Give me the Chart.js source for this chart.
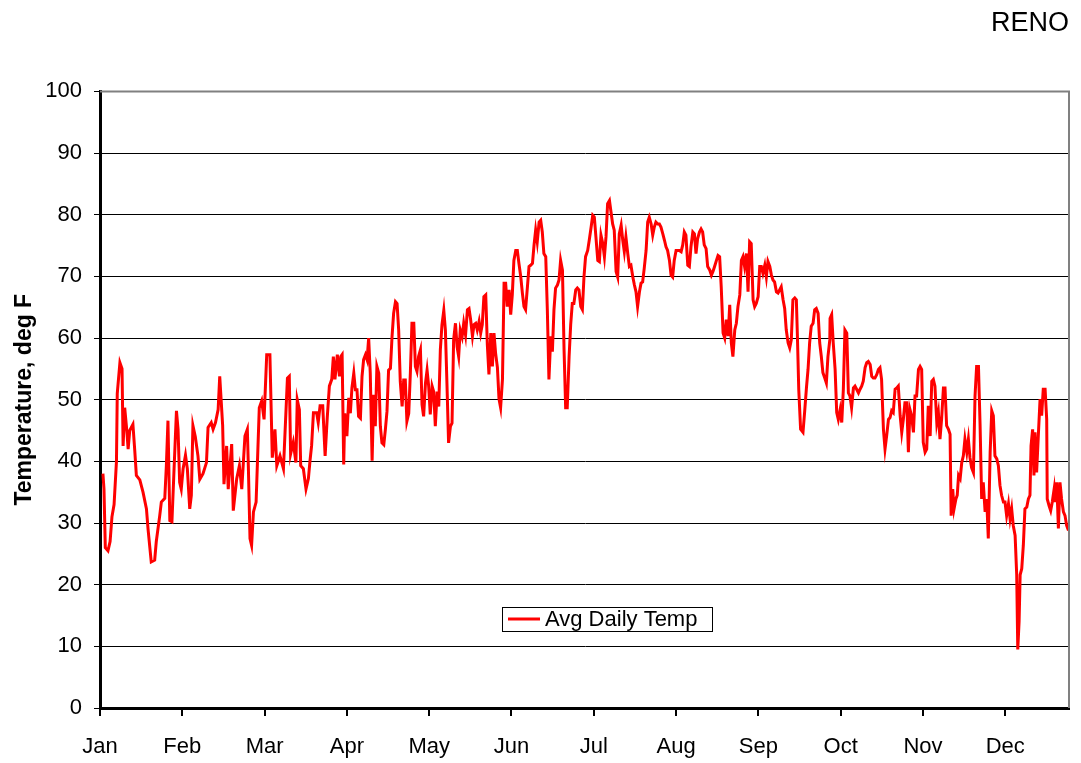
<!DOCTYPE html>
<html>
<head>
<meta charset="utf-8">
<title>RENO - Avg Daily Temp</title>
<script src="https://cdn.jsdelivr.net/npm/chart.js@4/dist/chart.umd.min.js"></script>
<style>
    html, body { margin: 0; padding: 0; background: #fff; }
    #wrap { width: 1081px; height: 763px; }
</style>
</head>
<body>
<div id="wrap"><canvas id="renoChart" width="1081" height="763"></canvas></div>
<script>
// --- data (day of year, deg F) ---
const days = [
    1.1, 1.5, 2.0, 3.0, 3.8, 4.5, 5.3, 6.2, 6.5, 7.5, 8.3, 8.7, 9.3, 10.1, 10.6, 11.2, 12.4, 13.1, 13.7, 15.0,
    16.2, 17.5, 18.1, 19.3, 20.6, 21.2, 22.5, 23.1, 24.4, 25.0, 25.6, 26.3, 27.1, 27.9, 28.8, 29.4, 30.0, 30.6, 31.3, 32.2,
    32.9, 33.8, 34.4, 35.0, 35.9, 36.9, 37.6, 38.8, 40.1, 40.7, 41.9, 42.6, 43.5, 44.5, 45.1,
    46.2, 46.7, 47.7, 48.3, 49.6, 50.2, 51.5, 52.5, 53.4, 54.6, 55.5, 55.9, 56.5, 57.1, 57.8, 58.8, 59.3, 60.0, 60.9, 61.8,
    62.8, 64.0, 64.9, 65.9, 66.6, 67.8, 69.1, 69.7, 70.6, 71.3, 71.8, 72.8, 73.8, 74.3, 75.1, 75.6, 76.6, 77.6, 78.5, 79.1,
    79.7, 80.4, 81.6, 82.2, 82.9, 83.9, 84.8, 85.6, 86.4, 87.3, 87.9, 88.5, 89.4, 90.2, 90.7,
    91.2, 91.8, 92.2, 93.0, 93.7, 94.3, 94.9, 95.6, 96.2, 96.8, 97.4, 98.1, 98.7, 99.3, 100.0, 100.6, 101.2, 101.8, 102.5, 103.1,
    103.7, 104.3, 105.0, 105.6, 106.2, 106.9, 107.5, 108.1, 108.7, 109.4, 110.0, 110.6, 111.3, 111.9, 112.5, 113.1, 113.8, 114.4, 115.0, 115.6,
    116.3, 116.9, 117.5, 118.2, 118.8, 119.4, 120.0, 120.7, 121.3, 121.9, 122.6, 123.2, 123.8, 124.4, 125.1, 125.7, 126.3, 127.0, 127.6, 128.2,
    128.8, 129.5, 130.1, 130.7, 131.3, 132.0, 132.6, 133.2, 133.9, 134.5, 135.1, 135.7, 136.4, 137.0,
    137.7, 138.4, 139.0, 139.6, 140.3, 140.9, 141.5, 142.1, 142.8, 143.4, 144.0, 144.6, 145.3, 145.9, 146.5, 147.2, 147.8, 148.4, 149.0, 149.7,
    150.3, 150.9, 151.6, 152.2, 152.8, 153.4, 154.1, 154.7, 155.3, 155.9, 156.6, 157.2, 157.8, 158.5, 159.1, 159.7, 160.3, 161.0, 161.6, 162.2,
    162.9, 163.5, 164.1, 164.7, 165.4, 166.0, 166.6, 167.2, 167.9, 168.5, 169.1, 169.8, 170.4, 171.0, 171.6, 172.3, 172.9, 173.5, 174.2, 174.8,
    175.4, 176.0, 176.7, 177.3, 177.9, 178.5, 179.2, 179.8, 180.4, 181.1, 181.7, 182.3, 182.9,
    183.7, 184.3, 185.0, 185.6, 186.2, 186.8, 187.5, 188.1, 188.7, 189.4, 190.0, 190.6, 191.2, 191.9, 192.5, 193.1, 193.7, 194.4, 195.0, 195.6,
    196.3, 196.9, 197.5, 198.1, 198.8, 199.4, 200.0, 200.7, 201.3, 201.9, 202.5, 203.2, 203.8, 204.4, 205.0, 205.7, 206.3, 206.9, 207.6, 208.2,
    208.8, 209.4, 210.1, 210.7, 211.3, 212.0, 212.6, 213.2, 213.8, 214.5, 215.1, 215.7, 216.3, 217.0, 217.6, 218.2, 218.9, 219.5, 220.1, 220.7,
    221.4, 222.0, 222.6, 223.3, 223.9, 224.5, 225.1, 225.8, 226.4, 227.0, 227.6, 228.3, 228.9,
    229.7, 230.3, 230.9, 231.5, 232.2, 232.8, 233.4, 234.0, 234.7, 235.3, 235.9, 236.6, 237.2, 237.8, 238.4, 239.1, 239.7, 240.3, 241.0, 241.6,
    242.2, 242.8, 243.5, 244.1, 244.7, 245.3, 246.0, 246.6, 247.2, 247.9, 248.5, 249.1, 249.7, 250.4, 251.0, 251.6, 252.3, 252.9, 253.5, 254.1,
    254.8, 255.4, 256.0, 256.6, 257.3, 257.9, 258.5, 259.2, 259.8, 260.4, 261.0, 261.7, 262.3, 262.7, 263.2, 263.9, 264.8, 265.4, 266.1, 266.7,
    267.3, 267.9, 268.6, 269.2, 269.8, 270.5, 271.1, 271.7, 272.3, 273.0, 273.6, 274.2, 274.9,
    275.0, 275.6, 276.2, 276.9, 277.5, 278.1, 278.8, 279.4, 280.0, 280.6, 281.3, 281.9, 282.5, 283.1, 283.8, 284.4, 285.0, 285.7, 286.3, 286.9,
    287.5, 288.2, 288.8, 289.4, 290.1, 290.7, 291.3, 291.9, 292.6, 293.2, 293.8, 294.4, 295.1, 295.7, 296.3, 297.0, 297.6, 298.2, 298.8, 299.5,
    300.1, 300.7, 301.4, 302.0, 302.6, 303.2, 303.9, 304.5, 305.1, 305.7, 306.4, 307.0, 307.6, 308.3, 308.9, 309.5, 310.1, 310.8, 311.4, 312.0,
    312.7, 313.3, 313.9, 314.5, 315.2, 315.8, 316.4, 317.0, 317.7, 318.3, 318.9, 319.6,
    320.2, 320.6, 321.2, 321.7, 322.4, 322.9, 323.4, 324.0, 324.6, 325.2, 325.8, 326.5, 327.1, 327.7, 328.3, 329.0, 329.6, 330.2, 330.9, 331.5,
    332.1, 332.7, 333.4, 334.0, 334.6, 335.3, 335.9, 336.5, 337.1, 337.8, 338.4, 339.0, 339.6, 340.3, 340.9, 341.5, 342.2, 342.8, 343.4, 344.0,
    344.7, 345.3, 345.7, 346.2, 346.6, 347.2, 347.8, 348.4, 349.1, 349.7, 350.3, 350.7, 351.3, 351.8, 352.2, 352.8, 353.5, 354.1, 354.7, 355.3,
    356.0, 356.6, 356.8, 357.5, 358.1, 358.7, 359.4, 359.7, 360.4, 361.0, 361.6, 362.2, 362.9, 363.5, 364.1, 364.8
];
const temps = [
    38, 35.5, 26, 25.5, 27, 31, 33, 40, 51, 56, 55, 42.5, 48.7, 45, 42, 45, 46, 41.7, 37.7, 37,
    35, 32.3, 29, 23.7, 24, 27, 31.2, 33.4, 34, 39.3, 46.6, 30.4, 30.2, 38.8, 48.2, 45.2, 36.6, 35.5, 38.8, 41,
    38.8, 32.3, 34.5, 45.8, 44, 40.9, 37.1, 38, 39.8, 45.5, 46.3, 45.2, 46.3, 48.4, 53.8,
    45.8, 36.3, 42.5, 35.5, 42.8, 32, 37.2, 39.3, 35.5, 44.1, 45.2, 38.8, 27.5, 26.4, 31.8, 33.4, 39.8, 48.7, 49.8, 46.8,
    57.3, 57.3, 40.6, 45.2, 39.3, 40.9, 38.8, 44.7, 53.5, 53.8, 41.2, 43.1, 39.8, 50, 48.4, 39.3, 38.8, 35.5, 37.2, 40.1,
    42.5, 47.9, 47.9, 46.3, 49, 49, 40.9, 47.1, 52.2, 53.3, 57, 53.3, 57.3, 53.8, 57,
    57.3, 39.5, 47.8, 44.1, 50.3, 47.8, 51.9, 54.3, 51.6, 51.6, 47.3, 47, 53.8, 56.5, 57.3, 56.5, 60, 54.3, 40.1, 50.8,
    45.7, 55.4, 54.3, 45.7, 43, 42.7, 45.2, 48.1, 54.8, 55.1, 60.2, 64, 65.9, 65.6, 61.3, 53, 48.9, 53.2, 53.2, 46.5,
    47.8, 54.3, 62.4, 62.4, 55.4, 54.6, 57, 58.1, 49.2, 47.3, 52.7, 54.8, 52.2, 47.6, 52.2, 51.3, 45.7, 51.3, 48.9, 58.1,
    62.1, 64.5, 61.3, 52.4, 43, 45.7, 46.2, 59.7, 62.4, 58.6, 57, 61.3, 60.2, 62.4,
    60.5, 64.6, 64.8, 63, 60.3, 62.2, 62.4, 61.3, 62.7, 60.8, 62.2, 66.7, 67, 58.9, 54.1, 60.8, 55.4, 60.8, 57.6, 55.2,
    50.1, 48.7, 53.3, 68.9, 68.9, 65.1, 67.8, 63.8, 67, 72.6, 74.2, 74.2, 72.1, 69.9, 67.3, 65.1, 64.6, 68.3, 71.6, 71.8,
    72.1, 75.1, 77.5, 75.6, 78.8, 79.1, 77.2, 73.7, 73.2, 64.6, 53.3, 60.3, 57.8, 64.6, 68.1, 68.6, 69.4, 72.6, 71, 58.1,
    48.7, 48.7, 57, 62.2, 65.6, 65.6, 67.8, 68.1, 67.8, 65.1, 64.6, 69.9, 73.2,
    74.2, 75.9, 78, 79.9, 79.6, 76.4, 72.6, 72.4, 76.7, 75.3, 73.2, 76.4, 81.8, 82.3, 80.4, 78.5, 77.5, 70.8, 69.9, 76.9,
    78.3, 75.9, 74, 76.4, 73.7, 71.6, 71.8, 69.9, 68.6, 67.5, 65.1, 67.5, 68.9, 69.1, 71.3, 74.2, 78.8, 79.6, 78.5, 76.7,
    78, 78.8, 78.5, 78.5, 78, 76.9, 75.9, 74.8, 74.2, 72.6, 70.2, 69.9, 72.6, 74.2, 74.2, 74.2, 74, 75.1, 77.2, 76.7,
    71.8, 71.6, 74.8, 77.2, 76.9, 73.7, 76.1, 77.2, 77.7, 77.2, 75.1, 74.5, 71.6,
    71, 70.2, 70.8, 71.6, 72.6, 73.4, 73.2, 68.3, 60.8, 60, 63, 60.3, 65.4, 59.2, 57, 61.3, 62.4, 65.1, 67, 72.6,
    73.2, 71.6, 73.7, 67.5, 75.6, 75.3, 66.2, 65.1, 65.6, 66.7, 71.6, 71.6, 70.5, 71.8, 69.9, 72.4, 71.6, 70.2, 69.4, 69.1,
    67.5, 67.3, 67.8, 68.3, 66.2, 64.8, 61.3, 59.2, 58.4, 59.7, 66.2, 66.5, 66.2, 60.3, 51.7, 45.2, 44.7, 47.9, 51.9, 54.9,
    59.2, 61.9, 62.4, 64.6, 64.8, 64, 59.2, 57, 54.4, 53.5, 52.7, 57, 59.7,
    63.2, 63.8, 59.2, 54.9, 47.9, 46.8, 48.4, 46.3, 51.7, 61.3, 60.8, 51.1, 50.6, 48.7, 51.9, 52.2, 51.7, 51.1, 51.7, 52.2,
    53, 55.2, 56, 56.2, 55.7, 53.8, 53.5, 53.5, 54.1, 54.9, 55.2, 53.3, 45.2, 42, 44.1, 46.8, 47.1, 48.2, 47.9, 51.7,
    51.9, 52.2, 47.4, 44.7, 46.8, 49.5, 49.5, 41.5, 48.4, 47.4, 44.7, 50.6, 50.6, 54.9, 55.4, 54.9, 43.1, 41.5, 42, 49,
    44.1, 53, 53.3, 52.2, 46.3, 47.9, 43.6, 46.8, 51.9, 51.9, 45.8, 45.2,
    44.4, 31.2, 35.5, 32.3, 33.9, 34.5, 37.7, 37.2, 39.8, 40.9, 43.6, 41.5, 43.6, 40.6, 39, 38.2, 50.6, 55.4, 55.4, 46,
    33.9, 36.6, 31.8, 33.9, 27.5, 41.5, 48.2, 47.4, 40.9, 40.4, 39.3, 36.1, 34.5, 33.4, 33.4, 31.2, 33.1, 30.7, 32.3, 29.6,
    28, 21.6, 9.5, 14, 21.6, 22.6, 26.4, 32.3, 32.6, 33.9, 34.5, 42.5, 45.2, 37.7, 44.7, 38.2, 44.7, 50.1, 47.4, 51.7,
    51.7, 46.8, 33.9, 32.8, 32, 33.4, 35.5, 33.4, 36.6, 29.1, 36.6, 33.9, 31.8, 31.2, 29.6, 28.8
];

// --- ticks / labels ---
const monthLabels = ['Jan', 'Feb', 'Mar', 'Apr', 'May', 'Jun', 'Jul', 'Aug', 'Sep', 'Oct', 'Nov', 'Dec'];
const monthTickDays = [0, 31, 62, 93, 124, 155, 186, 217, 248, 279, 310, 341];
const seriesLabel = 'Avg Daily Temp';
const chartTitle = 'RENO';
const yAxisTitle = 'Temperature, deg F';

const FONT = "'Liberation Sans', Arial, Helvetica, sans-serif";
Chart.defaults.font.family = FONT;
Chart.defaults.color = '#000';

// grey frame on top/right of the plot area (like the Excel original)
const plotFrame = {
    id: 'plotFrame',
    afterDatasetsDraw(chart) {
        const { ctx, chartArea: a } = chart;
        ctx.save();
        ctx.strokeStyle = '#808080';
        ctx.lineWidth = 2;
        ctx.beginPath();
        ctx.moveTo(a.left, a.top);
        ctx.lineTo(a.right, a.top);
        ctx.lineTo(a.right, a.bottom);
        ctx.stroke();
        ctx.restore();
    }
};

// legend box sitting inside the plot
const boxLegend = {
    id: 'boxLegend',
    afterDatasetsDraw(chart) {
        const { ctx } = chart;
        const ds = chart.data.datasets[0];
        const x = 502, y = 607, w = 210, h = 24;
        ctx.save();
        ctx.fillStyle = '#fff';
        ctx.fillRect(x, y, w, h);
        ctx.strokeStyle = '#000';
        ctx.lineWidth = 1;
        ctx.strokeRect(x + 0.5, y + 0.5, w, h);
        ctx.strokeStyle = ds.borderColor;
        ctx.lineWidth = 3;
        ctx.beginPath();
        ctx.moveTo(x + 6, y + 12);
        ctx.lineTo(x + 38, y + 12);
        ctx.stroke();
        ctx.fillStyle = '#000';
        ctx.font = '22px ' + FONT;
        ctx.textBaseline = 'middle';
        ctx.fillText(ds.label, x + 43, y + 13);
        ctx.restore();
    }
};

const ctx = document.getElementById('renoChart').getContext('2d');
new Chart(ctx, {
    type: 'line',
    data: {
        datasets: [{
            label: seriesLabel,
            data: days.map((d, i) => ({ x: d, y: temps[i] })),
            borderColor: '#FF0000',
            borderWidth: 3,
            pointRadius: 0,
            tension: 0,
            fill: false
        }]
    },
    options: {
        responsive: false,
        animation: false,
        devicePixelRatio: 1,
        layout: { padding: { left: 0, right: 12, top: 0, bottom: 0 } },
        plugins: {
            legend: { display: false },
            tooltip: { enabled: false },
            title: {
                display: true,
                text: chartTitle,
                align: 'end',
                color: '#000',
                font: { size: 27, weight: 'normal' },
                padding: { top: 7, bottom: 52 }
            }
        },
        scales: {
            x: {
                type: 'linear',
                min: 0,
                max: 365,
                afterBuildTicks: (scale) => {
                    scale.ticks = monthTickDays.map(v => ({ value: v }));
                },
                afterFit: (scale) => { scale.height = 55; },
                ticks: {
                    autoSkip: false,
                    maxRotation: 0,
                    padding: 18,
                    font: { size: 22 },
                    callback: (value, index) => monthLabels[index]
                },
                grid: {
                    drawOnChartArea: false,
                    drawTicks: true,
                    tickLength: 8,
                    color: '#000',
                    lineWidth: 2
                },
                border: { display: true, color: '#000', width: 3 }
            },
            y: {
                min: 0,
                max: 100,
                afterFit: (scale) => { scale.width = 100; },
                ticks: {
                    stepSize: 10,
                    padding: 12,
                    font: { size: 22 }
                },
                grid: {
                    color: '#000',
                    lineWidth: 1,
                    tickLength: 6
                },
                border: { display: true, color: '#000', width: 3 },
                title: {
                    display: true,
                    text: yAxisTitle,
                    color: '#000',
                    font: { size: 23, weight: 'bold' },
                    padding: { top: 11, bottom: 0 }
                }
            }
        }
    },
    plugins: [plotFrame, boxLegend]
});
</script>
</body>
</html>
